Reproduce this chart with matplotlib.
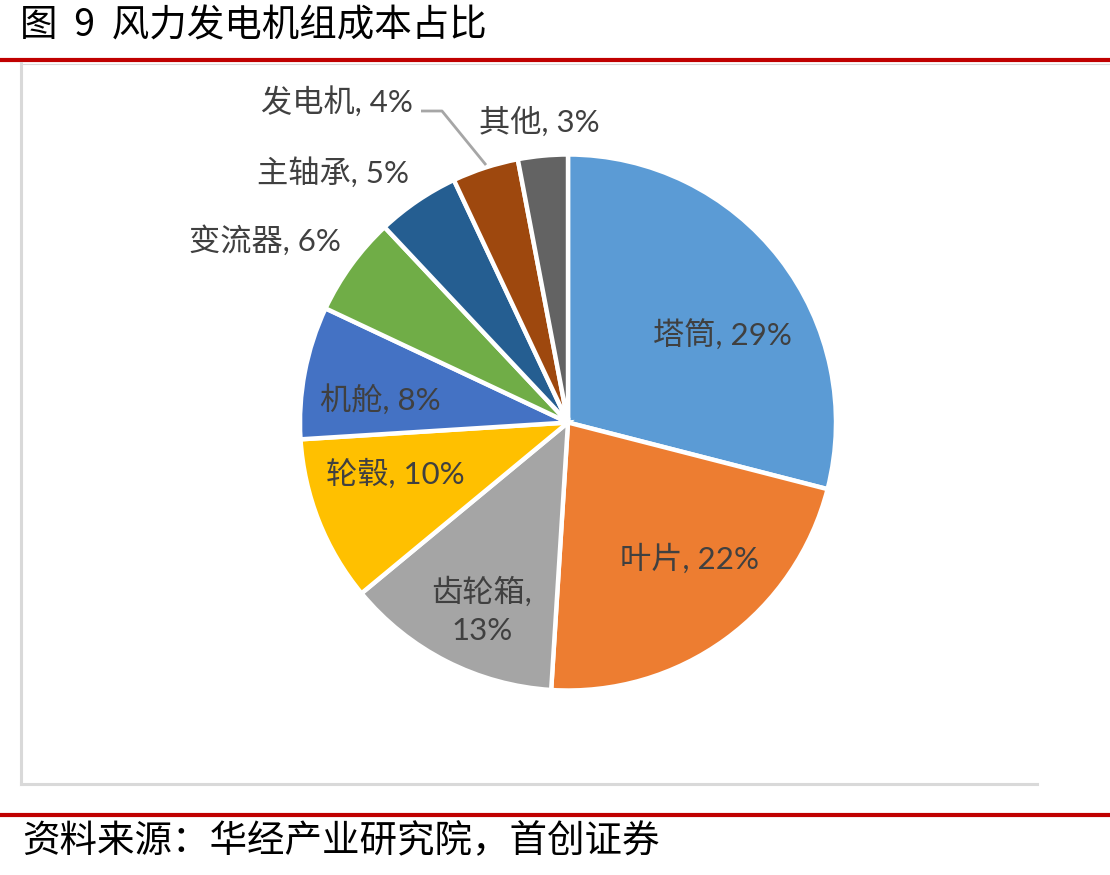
import matplotlib
matplotlib.use("Agg")
import matplotlib.pyplot as plt
from matplotlib.lines import Line2D

categories = ["塔筒", "叶片", "齿轮箱", "轮毂", "机舱", "变流器", "主轴承", "发电机", "其他"]
values = [29, 22, 13, 10, 8, 6, 5, 4, 3]
colors = ["#5B9BD5", "#ED7D31", "#A5A5A5", "#FFC000", "#4472C4",
          "#70AD47", "#255E91", "#9E480E", "#636363"]
# label positions (pie data units, radius = 1)
label_pos = [(0.575, 0.325), (0.455, -0.507), (-0.321, -0.703), (-0.646, -0.190),
             (-0.701, 0.086), (-1.131, 0.679), (-0.877, 0.933), (-0.862, 1.198),
             (-0.108, 1.123)]

W, H = 1110, 875
fig = plt.figure(figsize=(W / 100, H / 100), dpi=100)

def fx(px):
    return px / W

def fy(py):
    return 1 - py / H

cjk = ["Noto Sans CJK SC", "DejaVu Sans"]
lab_font = ["Lato", "Noto Sans CJK SC", "DejaVu Sans"]

# title
fig.text(fx(20), fy(26), "图  9  风力发电机组成本占比", family=cjk, fontsize=27,
         va="center", ha="left", color="black")
# red lines
fig.add_artist(Line2D([0, 1], [fy(60), fy(60)], transform=fig.transFigure,
                      color="#C00000", lw=3))
fig.add_artist(Line2D([0, 1], [fy(815), fy(815)], transform=fig.transFigure,
                      color="#C00000", lw=3))
# gray frame (left, top, bottom)
frame_c = "#D9D9D9"
fig.add_artist(Line2D([fx(20.5), fx(20.5)], [fy(63), fy(784)], transform=fig.transFigure,
                      color=frame_c, lw=2.2))
fig.add_artist(Line2D([fx(20.5), fx(1037)], [fy(783.5), fy(783.5)], transform=fig.transFigure,
                      color=frame_c, lw=2.2))
fig.add_artist(Line2D([fx(20.5), fx(1110)], [fy(63.5), fy(63.5)], transform=fig.transFigure,
                      color=frame_c, lw=0.8))
# source
fig.text(fx(22), fy(842), "资料来源：华经产业研究院，首创证券", family=cjk, fontsize=27,
         va="center", ha="left", color="black", style="italic")

# pie
cx, cy, r = 568, 422.5, 268
ax = fig.add_axes([fx(cx - r), fy(cy + r), 2 * r / W, 2 * r / H])
ax.axis("off")
ax.pie(values, colors=colors, startangle=90, counterclock=False, radius=1.0,
       wedgeprops=dict(edgecolor="white", linewidth=3.2, joinstyle="miter"))
ax.set_xlim(-1, 1)
ax.set_ylim(-1, 1)
ax.set_aspect("auto")

for cat, v, (lx, ly) in zip(categories, values, label_pos):
    txt = f"{cat}, {v}%" if cat != "齿轮箱" else f"{cat},\n{v}%"
    ax.text(lx, ly, txt, family=lab_font, fontsize=22.5, color="#404040",
            ha="center", va="center", linespacing=1.45, clip_on=False)

# leader line for 发电机
def dx(px):
    return (px - cx) / r

def dy(py):
    return (cy - py) / r

ax.plot([dx(421), dx(442), dx(486)], [dy(111), dy(111), dy(165)], color="#A6A6A6",
        lw=2, clip_on=False, solid_capstyle="butt")

fig.savefig("out.png", dpi=100)
